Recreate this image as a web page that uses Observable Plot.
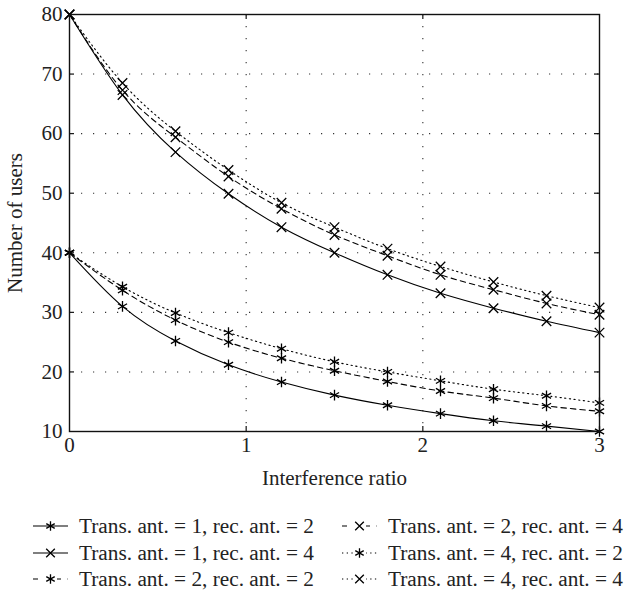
<!DOCTYPE html>
<html>
<head>
<meta charset="utf-8">
<script src="https://cdn.jsdelivr.net/npm/d3@7"></script>
<script src="https://cdn.jsdelivr.net/npm/@observablehq/plot@0.6"></script>
<style>
  html, body { margin: 0; padding: 0; background: #fff; }
  #wrap { position: relative; width: 630px; height: 590px; font-family: "Liberation Serif", serif; color: #222; }
  #legend { position: absolute; top: 513px; left: 0; width: 630px; font-size: 21.3px; }
  .item { position: absolute; height: 26.5px; line-height: 26.5px; white-space: nowrap; display: flex; align-items: center; }
  .item svg { margin-right: 11px; }
</style>
</head>
<body>
<div id="wrap"><div id="chart"></div><div id="legend"></div></div>
<script>
// Interference ratio values at markers
const ratio = [0, 0.3, 0.6, 0.9, 1.2, 1.5, 1.8, 2.1, 2.4, 2.7, 3.0];
// Number of users, per configuration
const t1r2 = [40, 31.0, 25.2, 21.2, 18.3, 16.1, 14.4, 13.0, 11.8, 10.9, 10.0];
const t1r4 = [80, 66.5, 56.9, 49.9, 44.3, 40.0, 36.3, 33.2, 30.7, 28.5, 26.6];
const t2r2 = [40, 33.7, 28.7, 25.0, 22.3, 20.2, 18.4, 16.8, 15.6, 14.3, 13.4];
const t2r4 = [80, 67.3, 59.4, 52.8, 47.4, 43.0, 39.5, 36.3, 33.8, 31.5, 29.6];
const t4r2 = [40, 34.3, 29.9, 26.6, 23.9, 21.7, 20.0, 18.5, 17.1, 16.0, 14.8];
const t4r4 = [80, 68.5, 60.4, 53.9, 48.4, 44.3, 40.7, 37.7, 35.1, 32.8, 30.8];
const seriesNames = [
  "Trans. ant. = 1, rec. ant. = 2",
  "Trans. ant. = 1, rec. ant. = 4",
  "Trans. ant. = 2, rec. ant. = 2",
  "Trans. ant. = 2, rec. ant. = 4",
  "Trans. ant. = 4, rec. ant. = 2",
  "Trans. ant. = 4, rec. ant. = 4"
];
const xTicks = [0, 1, 2, 3];
const yTicks = [10, 20, 30, 40, 50, 60, 70, 80];

const seriesValues = [t1r2, t1r4, t2r2, t2r4, t4r2, t4r4];
const symbols = ["asterisk", "times", "asterisk", "times", "asterisk", "times"];
const dashes = [null, null, "5.5,4", "5.5,4", "1.3,3.4", "1.3,3.4"];

const series = seriesValues.map((vals, i) => ({
  name: seriesNames[i],
  symbol: symbols[i],
  dash: dashes[i],
  data: ratio.map((x, j) => ({x, y: vals[j]}))
}));

const W = 630, H = 505, ML = 69, MR = 31, MT = 14, MB = 74;
const plotW = W - ML - MR, plotH = H - MT - MB, tickLen = 5;

const marks = [
  Plot.gridX(xTicks.slice(1, -1), {stroke: "#333", strokeOpacity: 1, strokeWidth: 1.1, strokeDasharray: "1.2,10.8"}),
  Plot.gridY(yTicks.slice(1, -1), {stroke: "#333", strokeOpacity: 1, strokeWidth: 1.1, strokeDasharray: "1.2,10.8"}),
  // inward ticks on all four sides
  Plot.tickX(xTicks.slice(1, -1), {x: d => d, insetTop: plotH - tickLen, stroke: "#111", strokeWidth: 1.2}),
  Plot.tickX(xTicks.slice(1, -1), {x: d => d, insetBottom: plotH - tickLen, stroke: "#111", strokeWidth: 1.2}),
  Plot.tickY(yTicks.slice(1, -1), {y: d => d, insetLeft: plotW - tickLen, stroke: "#111", strokeWidth: 1.2}),
  Plot.tickY(yTicks.slice(1, -1), {y: d => d, insetRight: plotW - tickLen, stroke: "#111", strokeWidth: 1.2}),
];
for (const s of series) {
  marks.push(Plot.line(s.data, {x: "x", y: "y", curve: "natural", stroke: "#000", strokeWidth: 1.1, strokeDasharray: s.dash}));
}
for (const s of series) {
  marks.push(Plot.dot(s.data, {x: "x", y: "y", symbol: () => s.symbol, r: s.symbol === "asterisk" ? 5 : 4.4, stroke: "#000", strokeWidth: 1.3}));
}
marks.push(
  Plot.frame({stroke: "#111", strokeWidth: 1.4}),
  Plot.axisX({ticks: xTicks, tickSize: 0, tickPadding: 6, tickFormat: d3.format("d"), label: "Interference ratio", labelAnchor: "center", labelArrow: false, labelOffset: 53}),
  Plot.axisY({ticks: yTicks, tickSize: 0, tickPadding: 7, label: "Number of users", labelAnchor: "center", labelArrow: false, labelOffset: 62})
);

const chart = Plot.plot({
  width: W,
  height: H,
  marginLeft: ML,
  marginRight: MR,
  marginTop: MT,
  marginBottom: MB,
  style: {fontFamily: "Liberation Serif, serif", fontSize: "21px", color: "#222", background: "#fff"},
  x: {domain: [0, 3]},
  y: {domain: [10, 80]},
  marks
});
document.getElementById("chart").appendChild(chart);

// Legend (HTML + small svg samples)
const legend = document.getElementById("legend");
const order = [0, 3, 1, 4, 2, 5];
const colX = [33, 342];
order.forEach((si, k) => {
  const s = series[si];
  const col = k % 2, row = Math.floor(k / 2);
  const div = document.createElement("div");
  div.className = "item";
  div.style.left = colX[col] + "px";
  div.style.top = (row * 26.5) + "px";
  const svg = d3.create("svg").attr("width", 35).attr("height", 14);
  svg.append("line").attr("x1", 0).attr("x2", 35).attr("y1", 7).attr("y2", 7)
    .attr("stroke", "#000").attr("stroke-width", 1.1)
    .attr("stroke-dasharray", s.dash ? (s.dash.startsWith("5") ? "5,6.5" : "1.3,3.4") : null);
  const sym = s.symbol === "asterisk" ? d3.symbolAsterisk : d3.symbolTimes;
  const r = s.symbol === "asterisk" ? 4.6 : 4.0;
  svg.append("rect").attr("x", 11).attr("y", 0).attr("width", 13).attr("height", 14).attr("fill", s.dash ? "#fff" : "none");
  svg.append("path").attr("transform", "translate(17.5,7)")
    .attr("d", d3.symbol(sym, r * r * Math.PI)())
    .attr("fill", "none").attr("stroke", "#000").attr("stroke-width", 1.3);
  div.appendChild(svg.node());
  const span = document.createElement("span");
  span.textContent = s.name;
  div.appendChild(span);
  legend.appendChild(div);
});
</script>
</body>
</html>
